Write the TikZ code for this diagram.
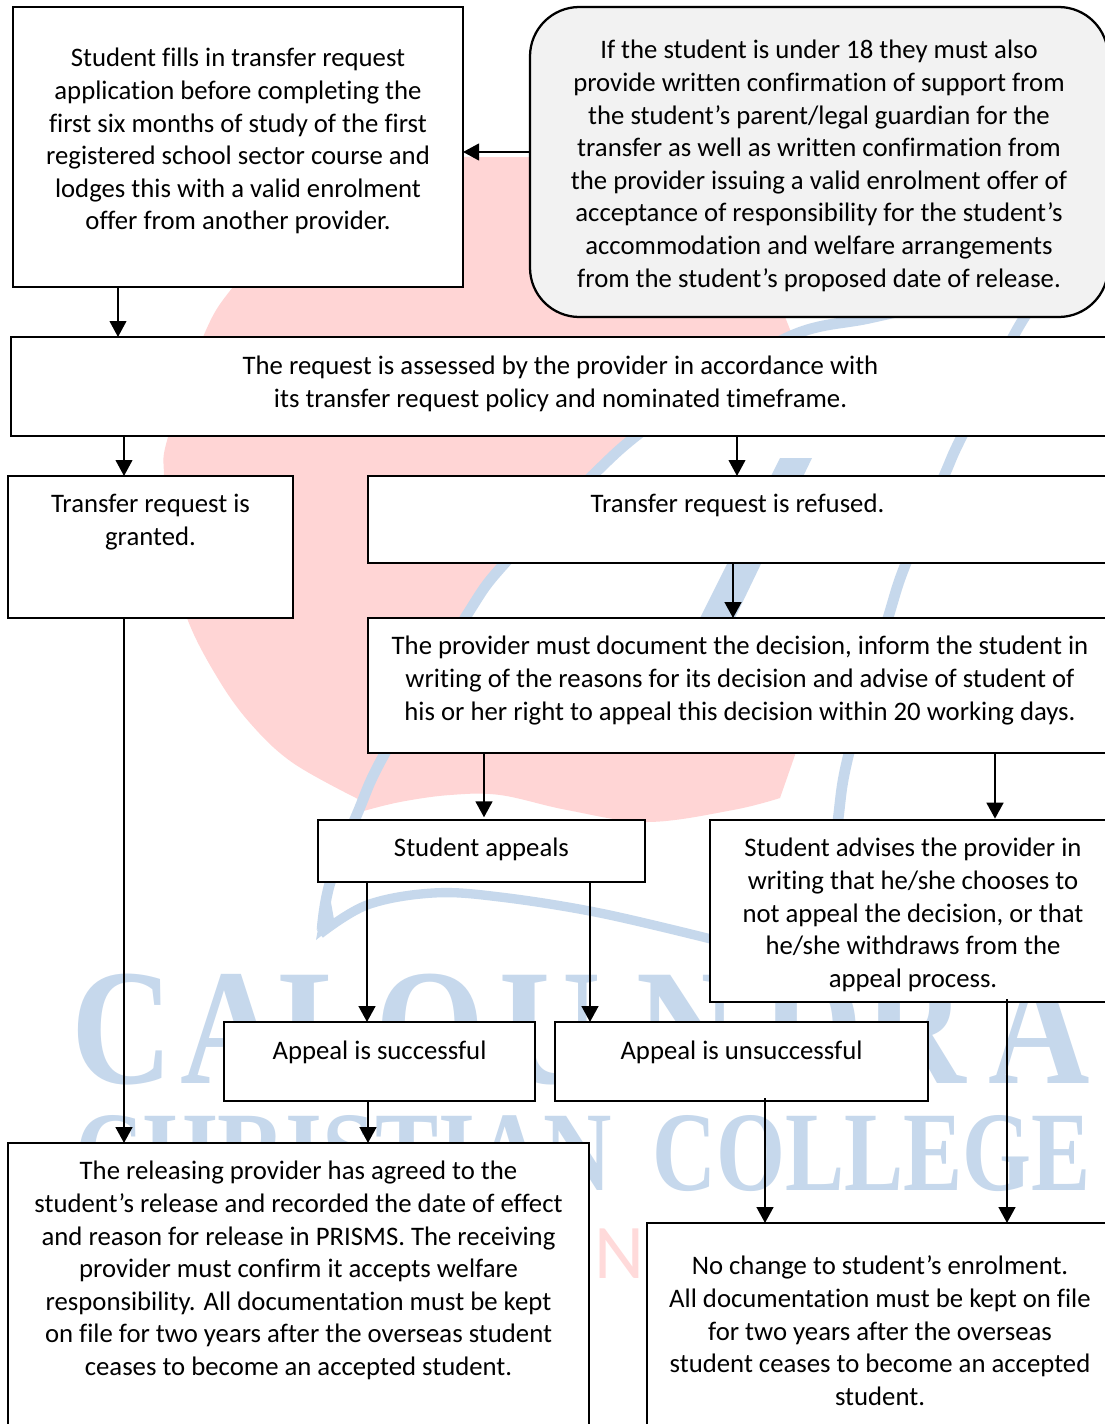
\documentclass[tikz,border=0pt]{standalone}
\usepackage{fontspec}
\setmainfont[Ligatures=NoCommon]{Carlito}
\newfontfamily\wmserif{Liberation Serif}
\newfontfamily\wmsans{Carlito}
\usetikzlibrary{arrows.meta}
\definecolor{wmred}{HTML}{FFD5D5}
\definecolor{wmblue}{HTML}{C6D8EC}
\definecolor{wmpink}{HTML}{FFDADA}
\definecolor{softgrey}{HTML}{F2F2F2}
% width px, height px, first-baseline px, text
\newcommand{\tbox}[4]{\parbox[c][#2\dimexpr0.75pt\relax][t]{#1\dimexpr0.75pt\relax}{%
  \fontsize{20.05pt}{24.45pt}\selectfont\lineskiplimit=-100pt\centering
  \leavevmode\rule{0pt}{\dimexpr#3\dimexpr0.75pt\relax+0.6pt\relax}#4\par}}
% one watermark letter in a cell of #1 px
\newcommand{\wl}[2]{\makebox[#1\dimexpr0.75pt\relax][c]{\scalebox{0.85}[1]{#2}}}
\tikzset{
  flowbox/.style={draw=black,fill=white,line width=1.7pt,inner sep=0pt,outer sep=0pt,anchor=north west},
  softbox/.style={flowbox,fill=softgrey,rounded corners=37pt},
  arr/.style={-{Triangle[length=12pt,width=12.5pt]},line width=2pt,black},
  arrthin/.style={arr,line width=1.6pt},
  wmstroke/.style={draw=wmblue,line width=8pt,line cap=butt,line join=round}
}
\begin{document}
\begin{tikzpicture}[x=0.75pt,y=-0.75pt]
\clip (0,0) rectangle (1105,1424);
\fill[white] (0,0) rectangle (1105,1424);
% watermark
\fill[wmred] plot[smooth,tension=0.6] coordinates {(470,157)(380,165)(300,215)(233,287)(203,337)(168,437)(164,476)(170,550)(187,618)(217,677)(250,723)(293,763)(360,800)}
  -- plot[smooth,tension=0.6] coordinates {(360,812)(400,802)(450,795)(500,795)(567,810)(647,822)(733,810)(780,798)}
  -- (795,755) -- (795,745) -- (470,625) -- (463,618) -- (503,563) -- (590,476) -- (633,436) -- (793,337) -- (785,317) -- (640,157) -- cycle;
\draw[wmstroke] plot[smooth,tension=0.6] coordinates {(950,300)(870,318)(793,335)(700,390)(636,436)(592,476)(505,563)(465,618)(385,753)(358,812)(330,883)(322,930)};
\draw[wmstroke,line width=7pt] plot[smooth,tension=0.6] coordinates {(320,934)(367,905)(433,893)(500,897)(600,913)(715,940)};
\fill[wmblue] (316,940) -- (327,880) -- (335,925) -- cycle;
\draw[wmstroke] plot[smooth,tension=0.6] coordinates {(1040,298)(1018,328)(962,436)(944,476)(906,563)(888,618)(849,753)(838,820)(830,900)};
\fill[wmblue] (780,458) -- (812,458) -- (733,622) -- (698,622) -- cycle;
\node[text=wmblue,anchor=base west,inner sep=0pt] (wmA) at (75,1083) {\fontsize{124pt}{124pt}\wmserif\bfseries\wl{94}{C}\wl{124}{A}\wl{64}{L}\wl{146}{O}\wl{94}{U}\wl{180}{N}\wl{70}{D}\wl{136}{R}\wl{112}{A}};
\node[text=wmblue,anchor=base west,inner sep=0pt] (wmB) at (75,1190) {\fontsize{85pt}{85pt}\wmserif\bfseries\scalebox{0.836}[1]{CHRISTIAN}\hspace{30pt}\scalebox{0.782}[1]{COLLEGE}};
\node[text=wmpink,anchor=base west,inner sep=0pt] (wmC) at (594,1278) {\fontsize{58pt}{58pt}\wmsans N};
% x positions of the connectors
\coordinate (x118) at (118,0);
\coordinate (x124) at (124,0);
\coordinate (x737) at (737,0);
\coordinate (x733) at (733,0);
\coordinate (x484) at (484,0);
\coordinate (x995) at (995,0);
\coordinate (x367) at (367,0);
\coordinate (x590) at (590,0);
\coordinate (x368) at (368,0);
\coordinate (x765) at (765,0);
\coordinate (x1007) at (1007,0);
\coordinate (y152) at (0,152);
% boxes
\node[flowbox] (A) at (13,7) {\tbox{450}{280}{59}{Student fills in transfer request\\application before completing the\\first six months of study of the first\\registered school sector course and\\lodges this with a valid enrolment\\offer from another provider.}};
\node[softbox] (B) at (530,7) {\tbox{578}{310}{51}{If the student is under 18 they must also\\provide written confirmation of support from\\the student’s parent/legal guardian for the\\transfer as well as written confirmation from\\the provider issuing a valid enrolment offer of\\acceptance of responsibility for the student’s\\accommodation and welfare arrangements\\from the student’s proposed date of release.}};
\node[flowbox,line width=1.4pt] (C) at (11,337) {\tbox{1099}{99}{37}{The request is assessed by the provider in accordance with\\its transfer request policy and nominated timeframe.}};
\node[flowbox] (D) at (8,476) {\tbox{285}{142}{36}{Transfer request is\\granted.}};
\node[flowbox] (E) at (368,476) {\tbox{739}{87}{36}{Transfer request is refused.}};
\node[flowbox] (F) at (368,618) {\tbox{744}{135}{36}{The provider must document the decision, inform the student in\\writing of the reasons for its decision and advise of student of\\his or her right to appeal this decision within 20 working days.}};
\node[flowbox,line width=1.4pt] (G) at (318,820) {\tbox{327}{62}{36}{Student appeals}};
\node[flowbox] (H) at (710,820) {\tbox{406}{182}{36}{Student advises the provider in\\writing that he/she chooses to\\not appeal the decision, or that\\he/she withdraws from the\\appeal process.}};
\node[flowbox] (I) at (224,1022) {\tbox{311}{79}{37}{Appeal is successful}};
\node[flowbox] (J) at (555,1022) {\tbox{373}{79}{37}{Appeal is unsuccessful}};
\node[flowbox,line width=1.4pt] (K) at (8,1143) {\tbox{581}{300}{36}{The releasing provider has agreed to the\\student’s release and recorded the date of effect\\and reason for release in PRISMS. The receiving\\provider must confirm it accepts welfare\\responsibility. All documentation must be kept\\on file for two years after the overseas student\\ceases to become an accepted student.}};
\node[flowbox] (L) at (647,1223) {\tbox{466}{220}{51}{No change to student’s enrolment.\\All documentation must be kept on file\\for two years after the overseas\\student ceases to become an accepted\\student.}};
% connectors
\draw[arrthin] (A.south -| x118) -- (C.north -| x118);
\draw[arrthin] (B.west |- y152) -- (A.east |- y152);
\draw[arrthin] (C.south -| x124) -- (D.north -| x124);
\draw[arrthin] (C.south -| x737) -- (E.north -| x737);
\draw[arr] (D.south -| x124) -- (K.north -| x124);
\draw[arr] (E.south -| x733) -- (F.north -| x733);
\draw[arr,shorten >=2pt] (F.south -| x484) -- (G.north -| x484);
\draw[arr,shorten >=1pt] (F.south -| x995) -- (H.north -| x995);
\draw[arr] (G.south -| x367) -- (I.north -| x367);
\draw[arr] (G.south -| x590) -- (J.north -| x590);
\draw[arr] (I.south -| x368) -- (K.north -| x368);
\draw[arr,shorten <=-2pt] (J.south -| x765) -- (L.north -| x765);
\draw[arr,shorten <=-2pt] (H.south -| x1007) -- (L.north -| x1007);
\end{tikzpicture}
\end{document}
